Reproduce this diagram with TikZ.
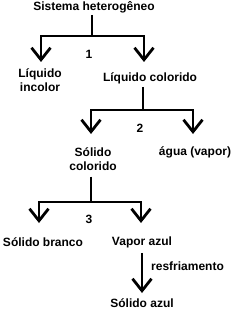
\documentclass[tikz,border=0pt]{standalone}
\usepackage{fontspec}
\setmainfont{Liberation Sans}
\usetikzlibrary{arrows.meta}
\begin{document}
\begin{tikzpicture}[x=1pt,y=-1pt,
  txt/.style={font=\fontsize{12}{14}\selectfont\bfseries, inner sep=0pt, align=center},
  ln/.style={line width=2.8pt},
  arr/.style={ln, -{Straight Barb[length=12pt,width=19pt,line width=2.8pt]}}]
\useasboundingbox (0,0) rectangle (234,310);
% texts
\node[txt] (s) at (94,7) {Sistema heterogêneo};
\node[txt] (li) at (40,80) {Líquido\\incolor};
\node[txt] (lc) at (150,78) {Líquido colorido};
\node[txt] (n1) at (89,54) {1};
\node[txt] (sc) at (93,159) {Sólido\\colorido};
\node[txt] (ag) at (195,152) {água (vapor)};
\node[txt] (n2) at (140,128) {2};
\node[txt] (sb) at (43,242) {Sólido branco};
\node[txt] (va) at (142,242) {Vapor azul};
\node[txt] (n3) at (89,219) {3};
\node[txt, anchor=west] (rf) at (151,266) {resfriamento};
\node[txt] (sa) at (142,303) {Sólido azul};
% junctions and tips
\coordinate (j1) at (92,36);
\coordinate (t1l) at (41,62);
\coordinate (t1r) at (144,62);
\coordinate (j2) at (143,110);
\coordinate (t2l) at (91,134);
\coordinate (t2r) at (193,134);
\coordinate (j3) at (91,202);
\coordinate (t3l) at (39,223);
\coordinate (t3r) at (141,223);
\coordinate (t4) at (142,293);
% connectors
\draw[ln] (s.south -| j1) ++(0,2) -- (j1);
\draw[arr] (j1) -| (t1l);
\draw[arr] (j1) -| (t1r);
\draw[ln] (lc.south -| j2) ++(0,3) -- (j2);
\draw[arr] (j2) -| (t2l);
\draw[arr] (j2) -| (t2r);
\draw[ln] (sc.south -| j3) ++(0,6) -- (j3);
\draw[arr] (j3) -| (t3l);
\draw[arr] (j3) -| (t3r);
\draw[arr] (va.south) ++(0,5) -- (t4);
\end{tikzpicture}
\end{document}
